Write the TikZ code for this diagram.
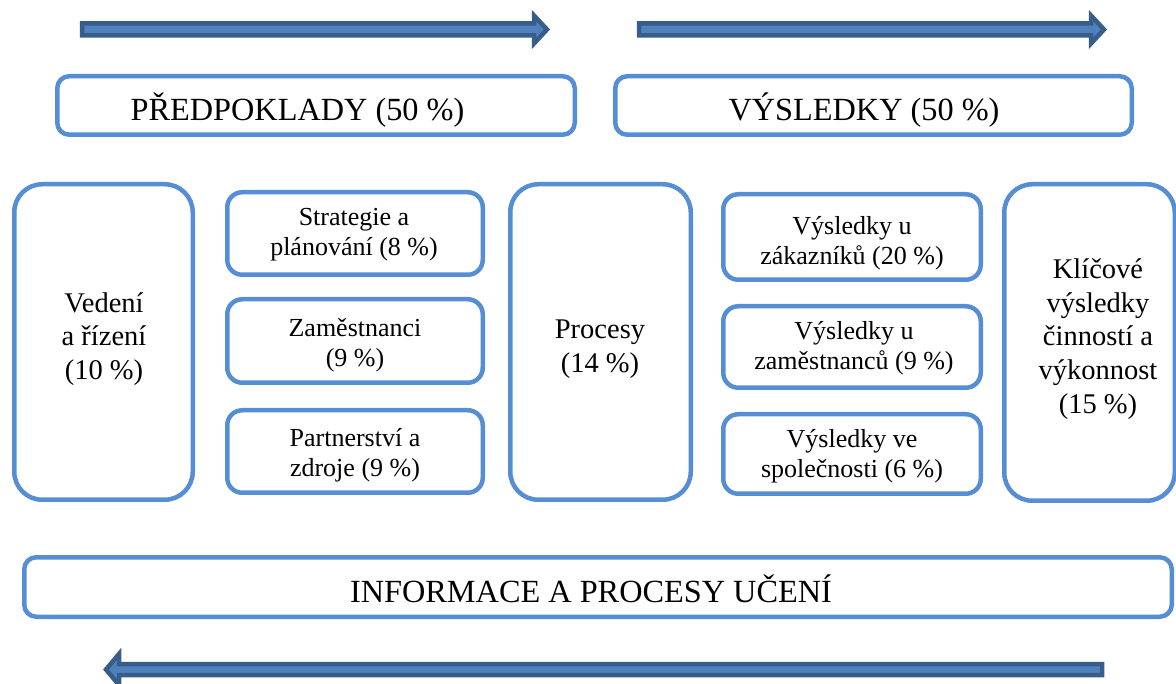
\documentclass[tikz,border=0pt]{standalone}
\usepackage{fontspec}
\setmainfont{Liberation Serif}
\definecolor{boxblue}{HTML}{558ED5}
\definecolor{arrfill}{HTML}{4F81BD}
\definecolor{arrdraw}{HTML}{385D8A}
\begin{document}
\begin{tikzpicture}[x=1pt,y=-1pt,
  box/.style={draw=boxblue, line width=4.5pt, rounded corners=12pt, inner sep=0pt, fill=white},
  tallbox/.style={box, rounded corners=28pt},
  smallbox/.style={box, rounded corners=15pt},
  bigtxt/.style={inner sep=0pt, font=\fontsize{32.3}{36}\selectfont},
  midtxt/.style={inner sep=0pt, align=center, font=\fontsize{28.5}{33.8}\selectfont},
  smalltxt/.style={inner sep=0pt, align=center, font=\fontsize{26}{30}\selectfont},
  arr/.style={fill=arrfill, draw=arrdraw, line width=4.5pt, line join=miter}]
\useasboundingbox (0,0) rectangle (1176,684);
\clip (0,0) rectangle (1176,684);

% arrows
\draw[arr] (82,23.5) -- (534,23.5) -- (534,15.5) -- (547,29.5) -- (534,43.5) -- (534,35.5) -- (82,35.5) -- cycle;
\draw[arr] (639,23.5) -- (1091,23.5) -- (1091,15.5) -- (1104,29.5) -- (1091,43.5) -- (1091,35.5) -- (639,35.5) -- cycle;
\draw[arr] (1102,664) -- (119,664) -- (119,654) -- (106,669.5) -- (119,685) -- (119,675) -- (1102,675) -- cycle;

% header boxes
\node[box, minimum width=517.5pt, minimum height=58.5pt] (pred) at (316,105.5) {};
\node[box, minimum width=516.5pt, minimum height=58.5pt] (vys) at (873.5,105.5) {};
\node[bigtxt, anchor=base] (predT) at (297.5,121) {PŘEDPOKLADY (50 \%)};
\node[bigtxt, anchor=base] (vysT) at (864,121) {VÝSLEDKY (50 \%)};

% tall boxes
\node[tallbox, minimum width=178.5pt, minimum height=315.5pt] (ved) at (103.5,342) {};
\node[tallbox, minimum width=180.5pt, minimum height=315.5pt] (proc) at (600.5,342) {};
\node[tallbox, minimum width=170.5pt, minimum height=316.5pt] (klic) at (1089.5,342.5) {};
\node[midtxt] (vedT) at (104,339) {Vedení\\a řízení\\(10 \%)};
\node[midtxt] (procT) at (600,349) {Procesy\\(14 \%)};
\node[midtxt] (klicT) at (1098,339) {Klíčové\\výsledky\\činností a\\výkonnost\\(15 \%)};

% small boxes left
\node[smallbox, minimum width=255.5pt, minimum height=82.5pt] (strat) at (355,233.5) {};
\node[smallbox, minimum width=255.5pt, minimum height=83.5pt] (zam) at (355,341) {};
\node[smallbox, minimum width=255.5pt, minimum height=82.5pt] (part) at (355,451.5) {};
\node[smalltxt] (stratT) at (354,235) {Strategie a\\plánování (8 \%)};
\node[smalltxt] (zamT) at (355,345) {Zaměstnanci\\(9 \%)};
\node[smalltxt] (partT) at (355,455.5) {Partnerství a\\zdroje (9 \%)};

% small boxes right
\node[smallbox, minimum width=257.5pt, minimum height=85.5pt] (vzak) at (852,237) {};
\node[smallbox, minimum width=257.5pt, minimum height=81.5pt] (vzam) at (852,347) {};
\node[smallbox, minimum width=257.5pt, minimum height=79.5pt] (vspol) at (852,454) {};
\node[smalltxt] (vzakT) at (852,243) {Výsledky u\\zákazníků (20 \%)};
\node[smalltxt] (vzamT) at (854,348) {Výsledky u\\zaměstnanců (9 \%)};
\node[smalltxt] (vspolT) at (852,456) {Výsledky ve\\společnosti (6 \%)};

% bottom box
\node[box, minimum width=1147.5pt, minimum height=59.5pt] (info) at (598,587) {};
\node[bigtxt, anchor=base] (infoT) at (591,602) {INFORMACE A PROCESY UČENÍ};
\end{tikzpicture}
\end{document}
